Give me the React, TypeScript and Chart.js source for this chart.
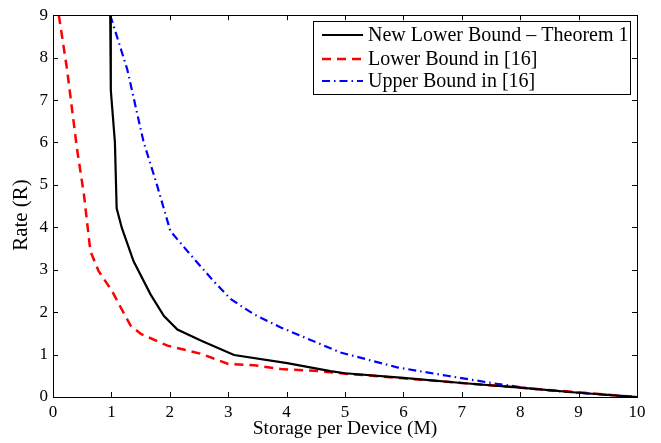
import React, { useEffect, useRef } from "react";
import { Chart, registerables } from "chart.js";

Chart.register(...registerables);

const seriesLabels = ["New Lower Bound \u2013 Theorem 1", "Lower Bound in [16]", "Upper Bound in [16]"];
const xTitle = "Storage per Device (M)";
const yTitle = "Rate (R)";

const newLowerX = [0.98, 0.99, 1.06, 1.09, 1.18, 1.38, 1.67, 1.9, 2.13, 2.53, 3.1, 4.01, 4.75, 5.0, 6.0, 7.0, 8.0, 9.0, 10.0];
const newLowerY = [9.0, 7.23, 6.01, 4.45, 3.98, 3.2, 2.42, 1.91, 1.59, 1.33, 0.99, 0.8, 0.61, 0.56, 0.45, 0.33, 0.22, 0.1, 0.0];

const lowerX = [0.1, 0.24, 0.41, 0.53, 0.64, 0.78, 1.01, 1.16, 1.33, 1.5, 1.96, 2.53, 3.0, 3.44, 3.9, 4.47, 5.0, 6.0, 7.0, 8.0, 9.0, 10.0];
const lowerY = [9.0, 7.73, 5.86, 4.77, 3.44, 2.97, 2.5, 2.11, 1.68, 1.49, 1.21, 1.02, 0.78, 0.75, 0.66, 0.62, 0.55, 0.44, 0.33, 0.22, 0.11, 0.0];

const upperX = [0.98, 1.27, 1.55, 1.78, 2.01, 2.35, 2.75, 3.04, 3.44, 3.9, 4.92, 5.89, 6.75, 7.6, 8.35, 9.0, 10.0];
const upperY = [9.0, 7.73, 6.02, 5.0, 3.91, 3.36, 2.73, 2.31, 1.95, 1.64, 1.05, 0.7, 0.5, 0.31, 0.17, 0.1, 0.0];

const xTicks = [0, 1, 2, 3, 4, 5, 6, 7, 8, 9, 10];
const yTicks = [0, 1, 2, 3, 4, 5, 6, 7, 8, 9];

const FONT = "'Liberation Serif', 'DejaVu Serif', serif";

const toPoints = (xs: number[], ys: number[]) => xs.map((x, i) => ({ x, y: ys[i] }));

const frameAndLegend = {
  id: "frameAndLegend",
  afterDatasetsDraw(chart: any) {
    const { ctx, chartArea } = chart;
    const { left, right, top, bottom } = chartArea;
    const xs = chart.scales.x;
    const ys = chart.scales.y;
    ctx.save();
    ctx.strokeStyle = "#000";
    ctx.lineWidth = 1;
    ctx.setLineDash([]);
    ctx.strokeRect(Math.round(left) + 0.5, Math.round(top) + 0.5, Math.round(right - left), Math.round(bottom - top));
    const tl = 5;
    ctx.beginPath();
    xTicks.forEach((v) => {
      const px = Math.round(xs.getPixelForValue(v)) + 0.5;
      ctx.moveTo(px, bottom);
      ctx.lineTo(px, bottom - tl);
      ctx.moveTo(px, top);
      ctx.lineTo(px, top + tl);
    });
    yTicks.forEach((v) => {
      const py = Math.round(ys.getPixelForValue(v)) + 0.5;
      ctx.moveTo(left, py);
      ctx.lineTo(left + tl, py);
      ctx.moveTo(right, py);
      ctx.lineTo(right - tl, py);
    });
    ctx.stroke();

    // y axis title
    ctx.save();
    ctx.translate(21, 215);
    ctx.rotate(-Math.PI / 2);
    ctx.font = "21px " + FONT;
    ctx.fillStyle = "#000";
    ctx.textAlign = "center";
    ctx.textBaseline = "middle";
    ctx.fillText(yTitle, 0, 0);
    ctx.restore();

    // legend
    const lx = 313, ly = 21, lw = 317, lh = 73;
    ctx.fillStyle = "#fff";
    ctx.fillRect(lx, ly, lw, lh);
    ctx.strokeRect(lx + 0.5, ly + 0.5, lw, lh);
    ctx.font = "20px " + FONT;
    ctx.textBaseline = "middle";
    ctx.textAlign = "left";
    const rows = [35, 59, 81];
    chart.data.datasets.forEach((ds: any, i: number) => {
      const y = rows[i];
      ctx.beginPath();
      ctx.strokeStyle = ds.borderColor;
      ctx.lineWidth = ds.borderWidth;
      ctx.setLineDash(ds.borderDash || []);
      ctx.moveTo(322, y);
      ctx.lineTo(363, y);
      ctx.stroke();
      ctx.setLineDash([]);
      ctx.fillStyle = "#000";
      ctx.fillText(ds.label, 368, y + 1);
    });
    ctx.restore();
  },
};

export default function App() {
  const ref = useRef<HTMLCanvasElement | null>(null);
  useEffect(() => {
    document.body.style.margin = "0";
    const canvas = ref.current;
    if (!canvas) return;
    const chart = new Chart(canvas, {
      type: "line",
      data: {
        datasets: [
          {
            label: seriesLabels[0],
            data: toPoints(newLowerX, newLowerY),
            borderColor: "#000000",
            borderWidth: 2.2,
            pointRadius: 0,
            fill: false,
            tension: 0,
          },
          {
            label: seriesLabels[1],
            data: toPoints(lowerX, lowerY),
            borderColor: "#ff0000",
            borderWidth: 2.5,
            borderDash: [9, 6],
            pointRadius: 0,
            fill: false,
            tension: 0,
          },
          {
            label: seriesLabels[2],
            data: toPoints(upperX, upperY),
            borderColor: "#0000ff",
            borderWidth: 2.2,
            borderDash: [8, 4, 1.5, 4],
            pointRadius: 0,
            fill: false,
            tension: 0,
          },
        ],
      },
      options: {
        animation: false,
        responsive: false,
        maintainAspectRatio: false,
        layout: { padding: { left: 0, right: 24, top: 12, bottom: 0 } },
        plugins: { legend: { display: false }, tooltip: { enabled: false } },
        scales: {
          x: {
            type: "linear",
            min: 0,
            max: 10,
            afterBuildTicks: (s: any) => {
              s.ticks = xTicks.map((v) => ({ value: v }));
            },
            afterFit: (s: any) => {
              s.height = 46;
            },
            grid: { display: false, drawTicks: false },
            border: { display: false },
            ticks: { padding: 5, color: "#000", font: { family: FONT, size: 17 }, maxRotation: 0 },
            title: {
              display: true,
              text: xTitle,
              color: "#000",
              font: { family: FONT, size: 19.5 },
              padding: { top: 0, bottom: 2 },
            },
          },
          y: {
            type: "linear",
            min: 0,
            max: 9,
            afterBuildTicks: (s: any) => {
              s.ticks = yTicks.map((v) => ({ value: v }));
            },
            afterFit: (s: any) => {
              s.width = 53;
            },
            grid: { display: false, drawTicks: false },
            border: { display: false },
            ticks: { padding: 5, color: "#000", font: { family: FONT, size: 17 } },
            title: { display: false },
          },
        },
      },
      plugins: [frameAndLegend],
    });
    return () => chart.destroy();
  }, []);
  return (
    <div style={{ width: 661, height: 443, background: "#fff" }}>
      <canvas ref={ref} width={661} height={443} style={{ width: 661, height: 443 }} />
    </div>
  );
}
